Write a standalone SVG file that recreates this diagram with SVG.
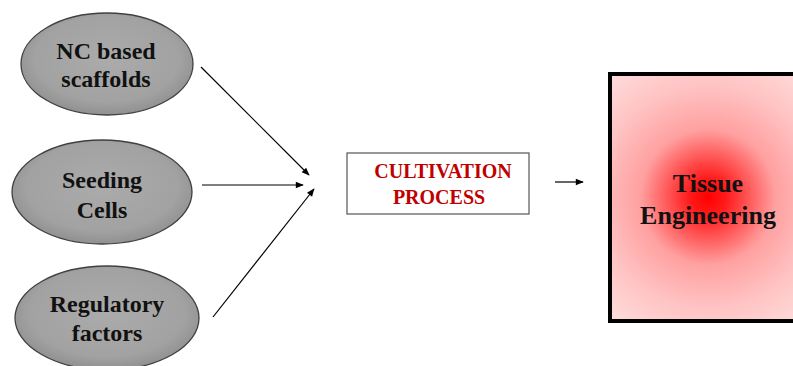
<svg xmlns="http://www.w3.org/2000/svg" width="793" height="366" viewBox="0 0 793 366">
<defs>
<radialGradient id="g" cx="50%" cy="45%" r="60%">
<stop offset="0" stop-color="#ababab"/>
<stop offset="0.7" stop-color="#a2a2a2"/>
<stop offset="1" stop-color="#8a8a8a"/>
</radialGradient>
<radialGradient id="red" gradientUnits="userSpaceOnUse" cx="708" cy="197" r="150">
<stop offset="0" stop-color="#ff0000"/>
<stop offset="0.12" stop-color="#ff1a1a"/>
<stop offset="0.45" stop-color="#ffa0a0"/>
<stop offset="0.75" stop-color="#ffc4c4"/>
<stop offset="1" stop-color="#ffd8d8"/>
</radialGradient>
<marker id="ah" viewBox="0 0 10 10" refX="9" refY="5" markerWidth="9" markerHeight="8" orient="auto" markerUnits="userSpaceOnUse">
<path d="M0,1 L10,5 L0,9 z" fill="#000"/>
</marker>
<style>
.el{fill:url(#g);stroke:#404040;stroke-width:1.3}
.t{font-family:"Liberation Serif",serif;font-weight:bold;font-size:24px;fill:#111;text-anchor:middle}
.te{font-family:"Liberation Serif",serif;font-weight:bold;font-size:26px;fill:#111;text-anchor:middle}
.c{font-family:"Liberation Serif",serif;font-weight:bold;font-size:20px;fill:#c00000;text-anchor:middle}
.ln{stroke:#000;stroke-width:1.2;fill:none;marker-end:url(#ah)}
</style>
</defs>
<rect width="793" height="366" fill="#fff"/>
<g id="n1">
<ellipse class="el" cx="107" cy="64" rx="86" ry="51"/>
<text class="t" x="106" y="59">NC based</text>
<text class="t" x="106" y="87">scaffolds</text>
</g>
<g id="n2">
<ellipse class="el" cx="102" cy="192" rx="90" ry="52"/>
<text class="t" x="102" y="188">Seeding</text>
<text class="t" x="102" y="218">Cells</text>
</g>
<g id="n3">
<ellipse class="el" cx="107" cy="318" rx="92" ry="52"/>
<text class="t" x="107" y="312">Regulatory</text>
<text class="t" x="107" y="341">factors</text>
</g>
<g id="n4">
<rect x="347" y="153" width="182" height="61" fill="#fff" stroke="#555" stroke-width="1.2"/>
<text class="c" x="443" y="178">CULTIVATION</text>
<text class="c" x="439" y="204">PROCESS</text>
</g>
<g id="n5">
<rect x="610" y="74" width="190" height="247" fill="url(#red)" stroke="#000" stroke-width="4"/>
<text class="te" x="708" y="192">Tissue</text>
<text class="te" x="708" y="224">Engineering</text>
</g>
<g id="connectors">
<line class="ln" x1="201" y1="67" x2="309" y2="175"/>
<line class="ln" x1="202" y1="185" x2="303" y2="185"/>
<line class="ln" x1="213" y1="317" x2="314" y2="189"/>
<line class="ln" x1="555" y1="182" x2="583" y2="182"/>
</g>
</svg>
